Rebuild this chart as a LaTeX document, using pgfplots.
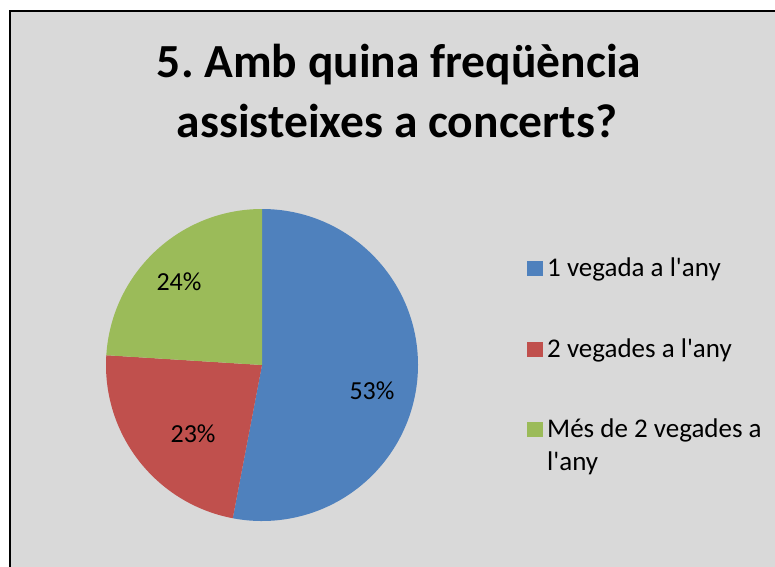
\documentclass[border=0pt]{standalone}
\usepackage{pgfplots}
\pgfplotsset{compat=1.18}
\usepackage{pgfplotstable}
\usepackage{fontspec}
\setmainfont{Carlito}[Ligatures=TeXOff]
\frenchspacing
\definecolor{pieblue}{HTML}{4F81BD}
\definecolor{piered}{HTML}{C0504D}
\definecolor{piegreen}{HTML}{9BBB59}
\definecolor{bg}{HTML}{D9D9D9}
\pgfplotstableread{
label start pct lx ly col
53 90 53 0.705 -0.167 pieblue
23 -100.8 23 -0.442 -0.442 piered
24 -183.6 24 -0.532 0.532 piegreen
}\piedata
\begin{document}
\begin{tikzpicture}[x=1pt,y=1pt]
\useasboundingbox (0,0) rectangle (775,-566);
\begin{scope}
\clip (0,0) rectangle (775,-566);
\fill[white] (0,0) rectangle (775,-566);
\filldraw[fill=bg, draw=black, line width=1.5pt] (10,-11) rectangle (800,-600);
\end{scope}
\begin{axis}[at={(262pt,-365pt)}, anchor=origin, hide axis,
  x=156pt, y=156pt, xmin=-1, xmax=1, ymin=-1, ymax=1, clip=false]
\pgfplotsforeachungrouped \i in {0,1,2}{
  \pgfplotstablegetelem{\i}{start}\of\piedata \let\st\pgfplotsretval
  \pgfplotstablegetelem{\i}{pct}\of\piedata \let\pc\pgfplotsretval
  \pgfplotstablegetelem{\i}{lx}\of\piedata \let\lx\pgfplotsretval
  \pgfplotstablegetelem{\i}{ly}\of\piedata \let\ly\pgfplotsretval
  \pgfplotstablegetelem{\i}{col}\of\piedata \let\col\pgfplotsretval
  \pgfmathsetmacro\en{\st-3.6*\pc}
  \edef\wedge{\noexpand\fill[\col] (axis cs:0,0) -- (axis cs:{cos(\st)},{sin(\st)}) arc[start angle=\st, end angle=\en, radius=156pt] -- cycle;
  \noexpand\node[font=\noexpand\fontsize{26}{30}\noexpand\selectfont] at (axis cs:\lx,\ly) {\pc\noexpand\%};}
  \wedge
}
\end{axis}
\node[anchor=base, inner sep=0, font=\fontsize{47.5}{56}\selectfont\bfseries] at (399,-77) {5. Amb quina freqüència};
\node[anchor=base, inner sep=0, font=\fontsize{47.5}{56}\selectfont\bfseries] at (397,-137) {assisteixes a concerts?};
\fill[pieblue] (527,-261) rectangle (543,-276);
\fill[piered] (527,-342) rectangle (543,-357);
\fill[piegreen] (527,-422) rectangle (543,-437);
\begin{scope}[every node/.style={anchor=base west, inner sep=0, font=\fontsize{27}{32}\selectfont}]
\node at (547,-276) {1 vegada a l'any};
\node at (547,-357) {2 vegades a l'any};
\node at (547,-437) {Més de 2 vegades a};
\node at (547,-470) {l'any};
\end{scope}
\end{tikzpicture}
\end{document}
